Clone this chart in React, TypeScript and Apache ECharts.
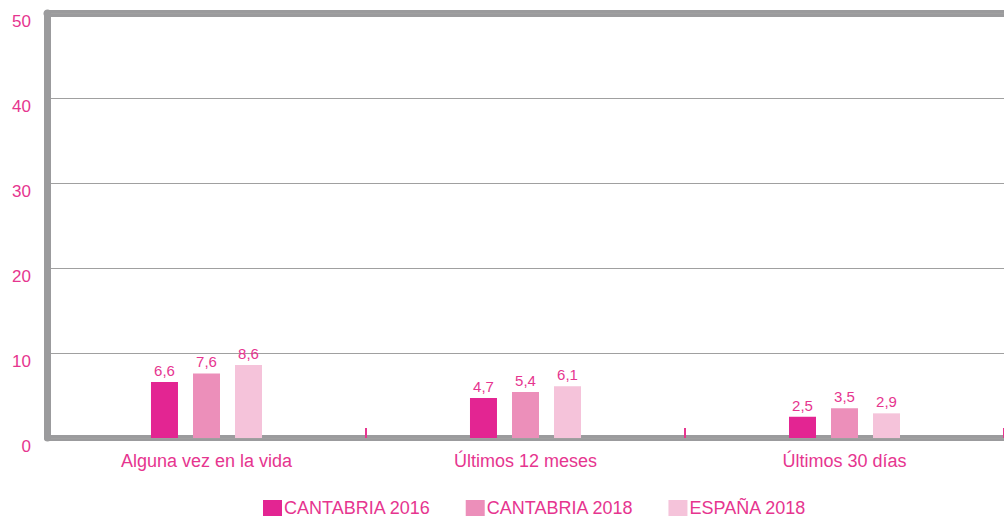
import React, { useEffect, useRef } from "react";
import * as echarts from "echarts";

const categories = ["Alguna vez en la vida", "Últimos 12 meses", "Últimos 30 días"];
const seriesNames = ["CANTABRIA 2016", "CANTABRIA 2018", "ESPAÑA 2018"];
const cantabria2016 = [6.6, 4.7, 2.5];
const cantabria2018 = [7.6, 5.4, 3.5];
const espana2018 = [8.6, 6.1, 2.9];
const seriesColors = ["#e32592", "#ec8fba", "#f5c3da"];
const textPink = "#e6358f";
const gray = "#9b9b9d";

export default function App() {
  const ref = useRef<HTMLDivElement>(null);
  useEffect(() => {
    if (!ref.current) return;
    const chart = echarts.init(ref.current, undefined, { renderer: "svg" });
    const values = [cantabria2016, cantabria2018, espana2018];
    const font = "Liberation Sans, Arial, sans-serif";
    chart.setOption({
      animation: false,
      textStyle: { fontFamily: font },
      grid: { left: 47, width: 960, top: 13, bottom: 80, containLabel: false },
      legend: {
        left: 263,
        top: 499,
        padding: 0,
        itemWidth: 19,
        itemHeight: 16,
        itemGap: 35,
        icon: "rect",
        data: seriesNames,
        textStyle: { color: textPink, fontSize: 18, fontFamily: font, padding: [0, 0, 0, -3] },
      },
      xAxis: [
        {
          type: "category",
          data: categories,
          position: "bottom",
          axisLine: { show: true, lineStyle: { color: gray, width: 6 } },
          axisTick: { show: true, inside: true, length: 10, lineStyle: { color: textPink, width: 2 } },
          axisLabel: { color: textPink, fontSize: 18, margin: 14, fontFamily: font },
          splitLine: { show: false },
        },
        {
          type: "category",
          data: categories,
          position: "top",
          axisLine: { show: true, lineStyle: { color: gray, width: 7 } },
          axisTick: { show: false },
          axisLabel: { show: false },
          splitLine: { show: false },
        },
      ],
      yAxis: {
        type: "value",
        min: 0,
        max: 50,
        interval: 10,
        z: 1,
        axisLine: { show: true, lineStyle: { color: gray, width: 7 } },
        axisTick: { show: false },
        axisLabel: {
          color: textPink,
          fontSize: 17,
          margin: 16,
          fontFamily: font,
          verticalAlign: "top",
        },
        splitLine: { show: true, lineStyle: { color: "#a0a0a0", width: 1 } },
      },
      series: seriesNames.map((name, i) => ({
        name,
        type: "bar",
        xAxisIndex: 0,
        data: values[i],
        barWidth: 27,
        barGap: "55.6%",
        barCategoryGap: "65%",
        itemStyle: { color: seriesColors[i] },
        label: {
          show: true,
          position: "top",
          distance: 4,
          color: textPink,
          fontSize: 15,
          fontFamily: font,
          formatter: (p: any) => String(p.value).replace(".", ","),
        },
      })),
    });
    return () => chart.dispose();
  }, []);
  return (
    <div
      ref={ref}
      style={{ position: "fixed", left: 0, top: 0, width: 1004, height: 518, background: "#fff" }}
    />
  );
}
